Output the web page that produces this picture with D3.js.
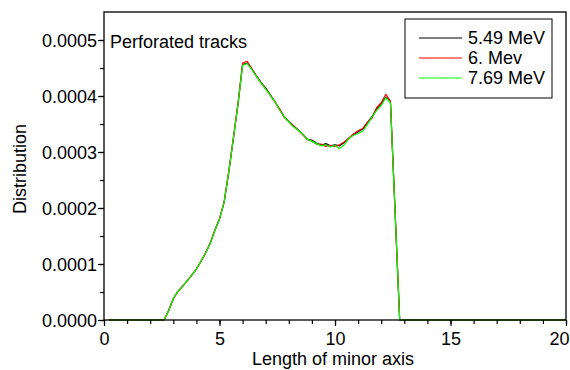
<!DOCTYPE html>
<html>
<head>
<meta charset="utf-8">
<script src="https://cdn.jsdelivr.net/npm/d3@7"></script>
<style>
  html, body { margin: 0; padding: 0; background: #fff; }
  svg { display: block; }
  text { font-family: "Liberation Sans", Arial, sans-serif; fill: #000; }
</style>
</head>
<body>
<svg id="chart" width="570" height="370"></svg>
<script>
// Length of minor axis (x) shared by all three curves
const lengths = [0.2, 2.6, 2.8, 3.0, 3.2, 3.4, 3.6, 3.8, 4.0, 4.2, 4.4, 4.6, 4.8, 5.0,
  5.2, 5.4, 5.6, 5.8, 6.0, 6.2, 6.4, 6.6, 6.8, 7.0, 7.2, 7.4, 7.6, 7.8, 8.0,
  8.2, 8.4, 8.6, 8.8, 9.0, 9.2, 9.4, 9.6, 9.8, 10.0, 10.2, 10.4, 10.6, 10.8,
  11.0, 11.2, 11.4, 11.6, 11.8, 12.0, 12.2, 12.4, 12.8, 20];

// Distribution for each alpha energy
const dist549 = [0, 0, 0.17e-4, 0.38e-4, 0.51e-4, 0.60e-4, 0.70e-4, 0.80e-4, 0.91e-4, 1.05e-4,
  1.20e-4, 1.37e-4, 1.60e-4, 1.80e-4, 2.10e-4, 2.64e-4, 3.24e-4, 3.85e-4, 4.56e-4, 4.59e-4,
  4.48e-4, 4.36e-4, 4.24e-4, 4.14e-4, 4.02e-4, 3.90e-4, 3.76e-4, 3.63e-4, 3.55e-4, 3.47e-4,
  3.40e-4, 3.32e-4, 3.23e-4, 3.21e-4, 3.16e-4, 3.12e-4, 3.15e-4, 3.11e-4, 3.13e-4, 3.11e-4,
  3.17e-4, 3.24e-4, 3.31e-4, 3.36e-4, 3.41e-4, 3.52e-4, 3.63e-4, 3.77e-4, 3.85e-4, 3.98e-4,
  3.89e-4, 0, 0];
const dist600 = [0, 0, 0.17e-4, 0.38e-4, 0.51e-4, 0.60e-4, 0.70e-4, 0.80e-4, 0.91e-4, 1.05e-4,
  1.20e-4, 1.38e-4, 1.61e-4, 1.81e-4, 2.11e-4, 2.65e-4, 3.25e-4, 3.87e-4, 4.59e-4, 4.62e-4,
  4.49e-4, 4.35e-4, 4.23e-4, 4.13e-4, 4.01e-4, 3.89e-4, 3.77e-4, 3.62e-4, 3.54e-4, 3.46e-4,
  3.39e-4, 3.31e-4, 3.22e-4, 3.20e-4, 3.14e-4, 3.14e-4, 3.10e-4, 3.12e-4, 3.10e-4, 3.13e-4,
  3.18e-4, 3.25e-4, 3.32e-4, 3.38e-4, 3.42e-4, 3.53e-4, 3.60e-4, 3.79e-4, 3.88e-4, 4.03e-4,
  3.91e-4, 0, 0];
const dist769 = [0, 0, 0.17e-4, 0.38e-4, 0.51e-4, 0.60e-4, 0.70e-4, 0.80e-4, 0.91e-4, 1.05e-4,
  1.20e-4, 1.37e-4, 1.60e-4, 1.80e-4, 2.10e-4, 2.64e-4, 3.24e-4, 3.85e-4, 4.55e-4, 4.58e-4,
  4.47e-4, 4.35e-4, 4.23e-4, 4.12e-4, 4.01e-4, 3.90e-4, 3.75e-4, 3.63e-4, 3.54e-4, 3.45e-4,
  3.39e-4, 3.32e-4, 3.23e-4, 3.19e-4, 3.15e-4, 3.11e-4, 3.13e-4, 3.09e-4, 3.12e-4, 3.06e-4,
  3.13e-4, 3.24e-4, 3.30e-4, 3.33e-4, 3.37e-4, 3.49e-4, 3.62e-4, 3.74e-4, 3.83e-4, 3.97e-4,
  3.88e-4, 0, 0];

const seriesNames = ["5.49 MeV", "6. Mev", "7.69 MeV"];
const seriesColors = ["#000000", "#ff0000", "#00ff00"];
const seriesValues = [dist549, dist600, dist769];

const xTicks = [0, 5, 10, 15, 20];
const yTicks = [0, 0.0001, 0.0002, 0.0003, 0.0004, 0.0005];

const svg = d3.select("#chart");
const plot = { left: 104, right: 566, top: 12, bottom: 320 };

const x = d3.scaleLinear().domain([0, 20]).range([plot.left, plot.right]);
const y = d3.scaleLinear().domain([0, 0.00055]).range([plot.bottom, plot.top]);

// curves
const line = d3.line()
  .x((d, i) => x(lengths[i]))
  .y(d => y(d));

seriesValues.forEach((vals, k) => {
  svg.append("path")
    .datum(vals)
    .attr("d", line)
    .attr("fill", "none")
    .attr("stroke", seriesColors[k])
    .attr("stroke-width", 1.2)
    .attr("stroke-linejoin", "round");
});

// frame
svg.append("rect")
  .attr("x", plot.left).attr("y", plot.top)
  .attr("width", plot.right - plot.left).attr("height", plot.bottom - plot.top)
  .attr("fill", "none").attr("stroke", "#000").attr("stroke-width", 1.3);

// x axis: major + minor ticks
const xAxis = svg.append("g").attr("transform", `translate(0,${plot.bottom})`);
xAxis.call(d3.axisBottom(x).tickValues(d3.range(0, 21, 1)).tickSize(4).tickFormat(""))
  .call(g => g.select(".domain").remove());
xAxis.append("g")
  .call(d3.axisBottom(x).tickValues(xTicks).tickSize(6).tickFormat(d3.format("d")))
  .call(g => g.select(".domain").remove())
  .call(g => g.selectAll("text").attr("font-size", 18).attr("dy", 0).attr("y", 25)
    .attr("font-family", "Liberation Sans, Arial, sans-serif").attr("fill", "#000"))
  // keep the last label inside the page edge
  .call(g => g.selectAll("text").filter(d => d === 20).attr("text-anchor", "end").attr("x", 3));
xAxis.selectAll("line").attr("stroke", "#000").attr("stroke-width", 1.2);

// y axis: major + minor ticks
const yAxis = svg.append("g").attr("transform", `translate(${plot.left},0)`);
yAxis.call(d3.axisLeft(y).tickValues(d3.range(0, 11).map(i => i * 0.00005)).tickSize(4).tickFormat(""))
  .call(g => g.select(".domain").remove());
yAxis.append("g")
  .call(d3.axisLeft(y).tickValues(yTicks).tickSize(6).tickFormat(d3.format(".4f")))
  .call(g => g.select(".domain").remove())
  .call(g => g.selectAll("text").attr("font-size", 18).attr("x", -7).attr("dy", "0.35em")
    .attr("font-family", "Liberation Sans, Arial, sans-serif").attr("fill", "#000"));
yAxis.selectAll("line").attr("stroke", "#000").attr("stroke-width", 1.2);

// axis titles
svg.append("text")
  .attr("x", (plot.left + plot.right) / 2 - 2).attr("y", 365)
  .attr("text-anchor", "middle").attr("font-size", 18)
  .text("Length of minor axis");
svg.append("text")
  .attr("transform", "translate(26,169) rotate(-90)")
  .attr("text-anchor", "middle").attr("font-size", 18)
  .text("Distribution");

// panel label
svg.append("text")
  .attr("x", 110).attr("y", 48)
  .attr("font-size", 18)
  .text("Perforated tracks");

// legend
const legend = svg.append("g");
legend.append("rect")
  .attr("x", 405).attr("y", 19).attr("width", 147).attr("height", 79)
  .attr("fill", "#fff").attr("stroke", "#000").attr("stroke-width", 1);
seriesNames.forEach((name, k) => {
  const cy = 38 + k * 20;
  legend.append("line")
    .attr("x1", 419).attr("x2", 462).attr("y1", cy).attr("y2", cy)
    .attr("stroke", seriesColors[k]).attr("stroke-width", 1);
  legend.append("text")
    .attr("x", 468).attr("y", cy).attr("dy", "0.35em")
    .attr("font-size", 18)
    .text(name);
});
</script>
</body>
</html>
